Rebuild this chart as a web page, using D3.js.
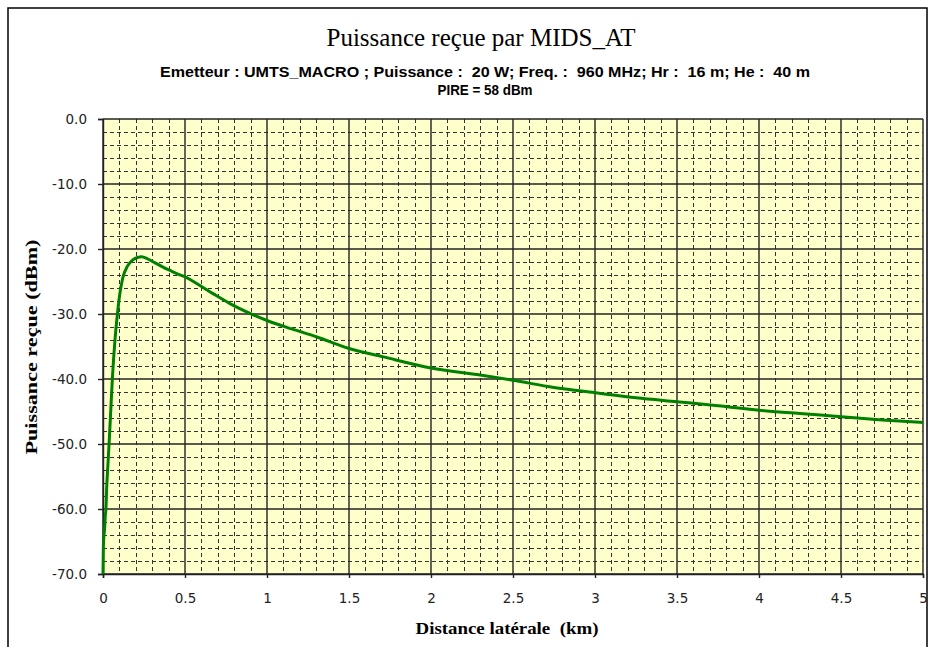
<!DOCTYPE html>
<html>
<head>
<meta charset="utf-8">
<script src="https://cdn.jsdelivr.net/npm/d3@7"></script>
<style>
  html, body { margin: 0; padding: 0; background: #fff; }
  svg { display: block; }
  text { white-space: pre; }
</style>
</head>
<body>
<svg id="chart" width="930" height="647"></svg>
<script>
// ---- Data ----
const distanceKm = [0, 0.002, 0.006, 0.010, 0.014, 0.018, 0.022, 0.026, 0.037, 0.047, 0.057, 0.073, 0.088, 0.102, 0.12, 0.15, 0.18, 0.21, 0.236, 0.27, 0.307, 0.36, 0.409, 0.46, 0.51, 0.571, 0.673, 0.774, 0.896, 1.0, 1.15, 1.3, 1.5, 1.71, 2.0, 2.3, 2.5, 2.75, 3.0, 3.25, 3.5, 3.75, 4.0, 4.25, 4.5, 4.75, 5.0];
const powerDbm   = [-70, -66, -64, -63, -61, -60, -57, -55, -50, -45, -40, -34, -30, -27, -24.5, -22.6, -21.7, -21.3, -21.2, -21.5, -22.0, -22.7, -23.3, -23.9, -24.4, -25.3, -26.9, -28.4, -29.9, -31.0, -32.3, -33.5, -35.3, -36.6, -38.3, -39.4, -40.2, -41.3, -42.1, -42.9, -43.5, -44.1, -44.8, -45.3, -45.8, -46.3, -46.7];
const xTicks = [0, 0.5, 1, 1.5, 2, 2.5, 3, 3.5, 4, 4.5, 5];
const yTicks = [0, -10, -20, -30, -40, -50, -60, -70];
const xMinorStep = 0.1;
const yMinorStep = 2;
const titleText = "Puissance reçue par MIDS_AT";
const subtitle1 = "Emetteur : UMTS_MACRO ; Puissance :  20 W; Freq. :  960 MHz; Hr :  16 m; He :  40 m";
const subtitle2 = "PIRE = 58 dBm";
const xLabel = "Distance latérale  (km)";
const yLabel = "Puissance reçue (dBm)";

// ---- Layout ----
const svg = d3.select("#chart");
const plot = { left: 103, top: 119, right: 923, bottom: 574 };

svg.append("rect")
  .attr("x", 8).attr("y", 8).attr("width", 919).attr("height", 700)
  .attr("fill", "#fff").attr("stroke", "#000").attr("stroke-width", 1.5);

const x = d3.scaleLinear().domain([0, 5]).range([plot.left, plot.right]);
const y = d3.scaleLinear().domain([-70, 0]).range([plot.bottom, plot.top]);

// plot background
svg.append("rect")
  .attr("x", plot.left).attr("y", plot.top)
  .attr("width", plot.right - plot.left).attr("height", plot.bottom - plot.top)
  .attr("fill", "#ffffcc");

// minor grid
const xMinor = d3.range(0, 5 + 1e-9, xMinorStep).filter(v => Math.abs(v / 0.5 - Math.round(v / 0.5)) > 1e-6);
const yMinor = d3.range(-70, 0 + 1e-9, yMinorStep).filter(v => v % 10 !== 0);
const grid = svg.append("g");
grid.selectAll("line.xm").data(xMinor).join("line")
  .attr("x1", d => Math.round(x(d)) + 0.5).attr("x2", d => Math.round(x(d)) + 0.5)
  .attr("y1", plot.top).attr("y2", plot.bottom)
  .attr("stroke", "#333").attr("stroke-width", 1).attr("stroke-dasharray", "4,3");
grid.selectAll("line.ym").data(yMinor).join("line")
  .attr("y1", d => Math.round(y(d)) + 0.5).attr("y2", d => Math.round(y(d)) + 0.5)
  .attr("x1", plot.left).attr("x2", plot.right)
  .attr("stroke", "#333").attr("stroke-width", 1).attr("stroke-dasharray", "4,3");

// major grid
grid.selectAll("line.xM").data(xTicks).join("line")
  .attr("x1", d => x(d)).attr("x2", d => x(d))
  .attr("y1", plot.top).attr("y2", plot.bottom)
  .attr("stroke", "#222").attr("stroke-width", 1.4);
grid.selectAll("line.yM").data(yTicks).join("line")
  .attr("y1", d => y(d)).attr("y2", d => y(d))
  .attr("x1", plot.left).attr("x2", plot.right)
  .attr("stroke", "#222").attr("stroke-width", 1.4);

// axes
const yAxis = svg.append("g").attr("transform", `translate(${plot.left},0)`)
  .call(d3.axisLeft(y).tickValues(yTicks).tickSize(5).tickPadding(11).tickFormat(d => d.toFixed(1)));
const xAxis = svg.append("g").attr("transform", `translate(0,${plot.bottom})`)
  .call(d3.axisBottom(x).tickValues(xTicks).tickSize(4).tickPadding(15).tickFormat(d => String(d)));
[yAxis, xAxis].forEach(a => {
  a.select(".domain").attr("stroke", "#222").attr("stroke-width", 1.4);
  a.selectAll(".tick line").attr("stroke", "#222").attr("stroke-width", 1.4);
  a.selectAll("text").attr("font-family", "DejaVu Sans, Verdana, sans-serif")
    .attr("font-size", 13.5).attr("fill", "#222");
});

// curve
const pts = distanceKm.map((d, i) => [d, powerDbm[i]]);
const line = d3.line().x(d => x(d[0])).y(d => y(d[1])).curve(d3.curveMonotoneX);
svg.append("path").datum(pts)
  .attr("d", line).attr("fill", "none")
  .attr("stroke", "#008000").attr("stroke-width", 3).attr("stroke-linejoin", "round");

// titles
svg.append("text").attr("x", 481).attr("y", 46).attr("text-anchor", "middle")
  .attr("font-family", "Liberation Serif, Times New Roman, serif").attr("font-size", 25)
  .attr("textLength", 309).attr("lengthAdjust", "spacingAndGlyphs")
  .attr("fill", "#000").text(titleText);
svg.append("text").attr("x", 485).attr("y", 77).attr("text-anchor", "middle")
  .attr("font-family", "Liberation Sans Narrow, Arial Narrow, Liberation Sans, sans-serif")
  .attr("font-weight", "bold").attr("font-size", 15.5)
  .attr("textLength", 650).attr("lengthAdjust", "spacingAndGlyphs")
  .attr("fill", "#000").text(subtitle1);
svg.append("text").attr("x", 485).attr("y", 95).attr("text-anchor", "middle")
  .attr("font-family", "Liberation Sans Narrow, Arial Narrow, Liberation Sans, sans-serif")
  .attr("font-weight", "bold").attr("font-size", 15.5)
  .attr("textLength", 95).attr("lengthAdjust", "spacingAndGlyphs")
  .attr("fill", "#000").text(subtitle2);

// axis labels
svg.append("text").attr("x", 507).attr("y", 634).attr("text-anchor", "middle")
  .attr("font-family", "Liberation Serif, Times New Roman, serif")
  .attr("font-weight", "bold").attr("font-size", 16)
  .attr("textLength", 183).attr("lengthAdjust", "spacingAndGlyphs")
  .attr("fill", "#000").text(xLabel);
svg.append("text").attr("transform", "translate(37,347) rotate(-90)")
  .attr("text-anchor", "middle")
  .attr("font-family", "Liberation Serif, Times New Roman, serif")
  .attr("font-weight", "bold").attr("font-size", 16)
  .attr("textLength", 215).attr("lengthAdjust", "spacingAndGlyphs")
  .attr("fill", "#000").text(yLabel);
</script>
</body>
</html>
